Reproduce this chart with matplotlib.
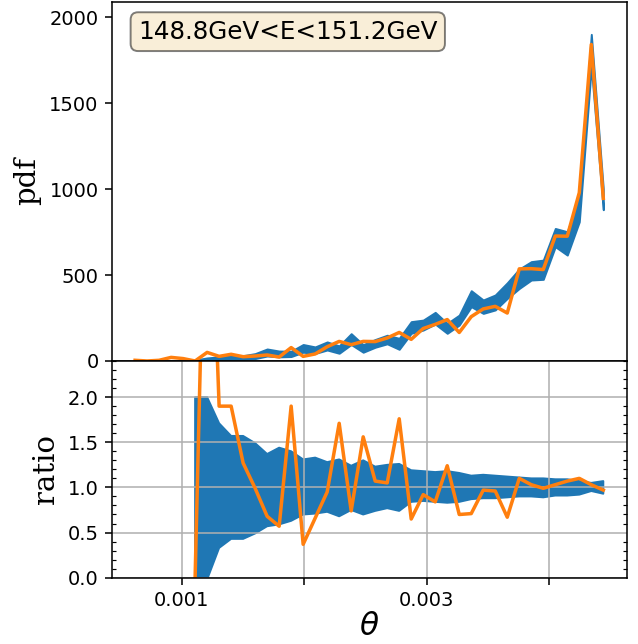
import numpy as np
import matplotlib
matplotlib.use("Agg")
import matplotlib.pyplot as plt
from matplotlib.ticker import AutoMinorLocator, FixedLocator, FixedFormatter

# ---- data ----
theta = [0.000619, 0.000717, 0.000815, 0.000913, 0.001011, 0.001109, 0.001207, 0.001305,
         0.001403, 0.001501, 0.001599, 0.001697, 0.001795, 0.001893, 0.001991, 0.002089,
         0.002187, 0.002285, 0.002383, 0.002481, 0.002579, 0.002677, 0.002775, 0.002873,
         0.002971, 0.003069, 0.003167, 0.003265, 0.003363, 0.003461, 0.003559, 0.003657,
         0.003755, 0.003853, 0.003951, 0.004049, 0.004147, 0.004245, 0.004343, 0.004441]

pdf_sample = [4, 0, 4, 21, 14, 0, 50, 27, 39, 25, 29, 35, 23, 78, 27, 41, 83, 114, 95, 114,
              113, 134, 166, 126, 189, 213, 241, 166, 258, 303, 318, 279, 536, 537, 532, 727,
              726, 979, 1841, 946]

pdf_band_hi = [8, 2, 2, 3, 3, 6, 18, 24, 32, 31, 43, 70, 58, 57, 96, 82, 111, 88, 159, 95,
               125, 150, 132, 229, 238, 283, 219, 267, 409, 355, 384, 455, 535, 578, 587, 771,
               752, 955, 1900, 1000]
pdf_band_lo = [0, 0, 0, 0, 0, 0, 0, 5, 9, 9, 14, 29, 24, 26, 51, 44, 64, 45, 96, 51,
               80, 100, 68, 161, 180, 215, 161, 209, 316, 277, 297, 364, 422, 471, 475, 665,
               616, 810, 1710, 880]

nan = np.nan
ratio_band_hi = [nan, nan, nan, nan, nan, 2.0, 2.0, 1.71, 1.57, 1.57, 1.49, 1.37, 1.44, 1.40,
                 1.31, 1.33, 1.28, 1.31, 1.24, 1.30, 1.23, 1.25, 1.26, 1.19, 1.18, 1.17, 1.18,
                 1.16, 1.13, 1.14, 1.13, 1.12, 1.11, 1.10, 1.10, 1.09, 1.09, 1.07, 1.05, 1.07]
ratio_band_lo = [nan, nan, nan, nan, nan, -10.0, -0.02, 0.33, 0.43, 0.43, 0.49, 0.57, 0.59, 0.63,
                 0.70, 0.71, 0.73, 0.68, 0.75, 0.70, 0.74, 0.77, 0.74, 0.84, 0.85, 0.84, 0.83,
                 0.84, 0.87, 0.88, 0.88, 0.89, 0.90, 0.90, 0.89, 0.91, 0.91, 0.92, 0.96, 0.93]
ratio_sample = [nan, nan, nan, nan, nan, 0.0, 5.5, 1.90, 1.90, 1.27, 0.99, 0.68, 0.57, 1.90,
                0.37, 0.66, 0.95, 1.71, 0.74, 1.56, 1.07, 1.05, 1.76, 0.65, 0.92, 0.84, 1.24,
                0.70, 0.71, 0.97, 0.96, 0.67, 1.10, 1.03, 0.99, 1.03, 1.07, 1.10, 1.03, 0.97]

pdf_yticks = [0, 500, 1000, 1500, 2000]
ratio_yticks = [0.0, 0.5, 1.0, 1.5, 2.0]
xticks = [0.001, 0.002, 0.003, 0.004]
xticklabels = ["0.001", "", "0.003", ""]
label_text = "148.8GeV<E<151.2GeV"

# ---- figure ----
W, H, DPI = 638, 644, 140
fig = plt.figure(figsize=(W / DPI, H / DPI), dpi=DPI)

left = 112.3 / W
width = (626.7 - 112.3) / W
ax1 = fig.add_axes([left, (H - 361.0) / H, width, (361.0 - 1.7) / H])
ax2 = fig.add_axes([left, (H - 577.7) / H, width, (577.7 - 361.0) / H], sharex=ax1)

blue = "#1f77b4"
orange = "#ff7f0e"

ax1.fill_between(theta, pdf_band_lo, pdf_band_hi, color=blue)
ax1.plot(theta, pdf_sample, color=orange, lw=1.8)
ax1.set_ylim(0, 2090)
ax1.set_yticks(pdf_yticks)
ax1.set_ylabel("pdf", family="serif", fontsize=15)
ax1.tick_params(axis="x", bottom=False, labelbottom=False)
ax1.text(0.05, 0.95, label_text, transform=ax1.transAxes, fontsize=12.7,
         va="top", ha="left",
         bbox=dict(boxstyle="round", facecolor="wheat", alpha=0.5))

ax2.fill_between(theta, ratio_band_lo, ratio_band_hi, color=blue)
ax2.plot(theta, ratio_sample, color=orange, lw=1.8)
ax2.set_ylim(0, 2.4)
ax2.set_yticks(ratio_yticks)
ax2.yaxis.set_minor_locator(AutoMinorLocator())
ax2.tick_params(which="minor", axis="y", direction="in", left=True, right=True)
ax2.grid(True)
ax2.set_ylabel("ratio", family="serif", fontsize=15)
ax2.set_xlabel(r"$\theta$", fontsize=16, labelpad=1)
ax2.xaxis.set_major_locator(FixedLocator(xticks))
ax2.xaxis.set_major_formatter(FixedFormatter(xticklabels))
ax2.set_xlim(0.000433, 0.004632)

fig.savefig("out.png", dpi=DPI)
